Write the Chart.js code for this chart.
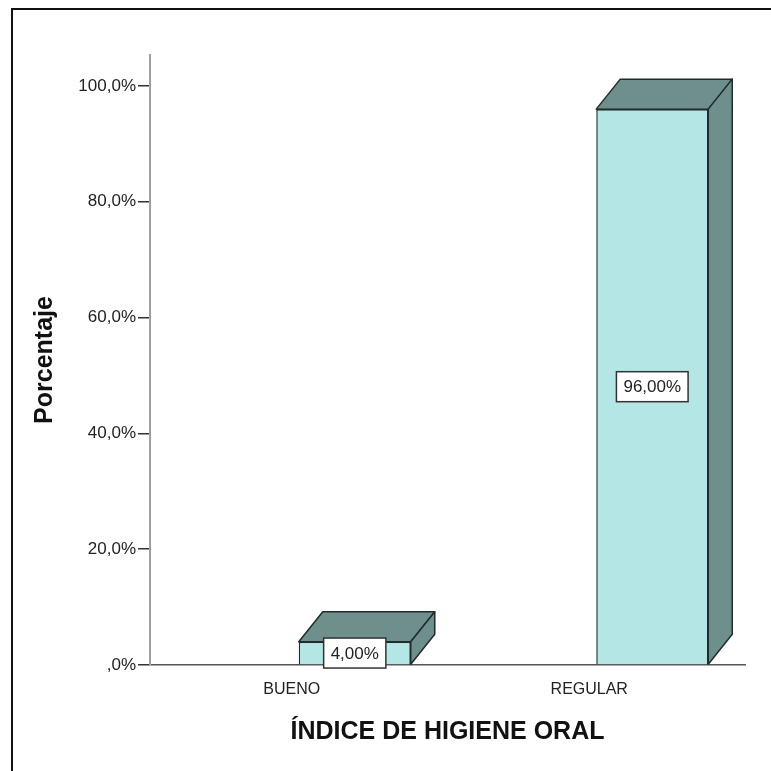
<!DOCTYPE html>
<html>
<head>
<meta charset="utf-8">
<title>Índice de higiene oral</title>
<script src="https://cdn.jsdelivr.net/npm/chart.js@4.4.1/dist/chart.umd.min.js"></script>
<style>
  html, body { margin: 0; padding: 0; background: #fff; overflow: hidden; }
  #wrap { position: relative; width: 771px; height: 771px; }
  #frame { position: absolute; left: 11px; top: 8px; width: 900px; height: 900px;
           border-left: 2px solid #111; border-top: 2px solid #111; pointer-events: none; }
</style>
</head>
<body>
<div id="wrap">
  <canvas id="chart" width="771" height="771"></canvas>
  <div id="frame"></div>
</div>
<script>
// data
const categories = ['BUENO', 'REGULAR'];
const porcentajes = [4.0, 96.0];
const yTicks = [0, 20, 40, 60, 80, 100];
const yTickLabels = [',0%', '20,0%', '40,0%', '60,0%', '80,0%', '100,0%'];
const xTitle = 'ÍNDICE DE HIGIENE ORAL';
const yTitle = 'Porcentaje';

const FRONT = '#b4e6e6';
const SIDE = '#6f8f8c';
const EDGE = '#1f2d2d';
const DEPTH_X = 24, DEPTH_Y = 30;
const FONT = '"Liberation Sans", Arial, sans-serif';

// top and side faces of the 3D bars, built on the bar elements
const bars3d = {
  id: 'bars3d',
  afterDatasetsDraw(chart) {
    const ctx = chart.ctx;
    chart.getDatasetMeta(1).data.forEach(bar => {
      const x0 = bar.x - bar.width / 2, x1 = bar.x + bar.width / 2;
      const yt = bar.y, yb = bar.base;
      ctx.save();
      ctx.fillStyle = SIDE;
      ctx.strokeStyle = EDGE;
      ctx.lineWidth = 1.5;
      ctx.lineJoin = 'round';
      // top
      ctx.beginPath();
      ctx.moveTo(x0, yt);
      ctx.lineTo(x0 + DEPTH_X, yt - DEPTH_Y);
      ctx.lineTo(x1 + DEPTH_X, yt - DEPTH_Y);
      ctx.lineTo(x1, yt);
      ctx.closePath();
      ctx.fill();
      ctx.stroke();
      // side
      ctx.beginPath();
      ctx.moveTo(x1, yt);
      ctx.lineTo(x1 + DEPTH_X, yt - DEPTH_Y);
      ctx.lineTo(x1 + DEPTH_X, yb - DEPTH_Y);
      ctx.lineTo(x1, yb);
      ctx.closePath();
      ctx.fill();
      ctx.stroke();
      ctx.restore();
    });
  }
};

// boxed value labels in the middle of each bar
const boxLabels = {
  id: 'boxLabels',
  afterDraw(chart) {
    const ctx = chart.ctx;
    chart.getDatasetMeta(1).data.forEach((bar, i) => {
      const txt = porcentajes[i].toFixed(2).replace('.', ',') + '%';
      ctx.save();
      ctx.font = '17px ' + FONT;
      const w = ctx.measureText(txt).width + 14, h = 30;
      const cx = bar.x, cy = (bar.y + bar.base) / 2;
      ctx.fillStyle = '#fff';
      ctx.fillRect(cx - w / 2, cy - h / 2, w, h);
      ctx.strokeStyle = '#333';
      ctx.lineWidth = 1.5;
      ctx.strokeRect(cx - w / 2, cy - h / 2, w, h);
      ctx.fillStyle = '#222';
      ctx.textAlign = 'center';
      ctx.textBaseline = 'middle';
      ctx.fillText(txt, cx, cy + 1);
      ctx.restore();
    });
  }
};

new Chart(document.getElementById('chart'), {
  type: 'bar',
  data: {
    labels: categories,
    datasets: [
      { label: '', data: [] }, // empty slot, pushes the bars right of the category tick
      {
        label: 'Porcentaje',
        data: porcentajes,
        backgroundColor: FRONT,
        borderColor: EDGE,
        borderWidth: 1.5,
        categoryPercentage: 0.753,
        barPercentage: 1.0
      }
    ]
  },
  options: {
    responsive: false,
    animation: false,
    layout: { padding: { top: 55, right: 26, left: 0, bottom: 0 } },
    plugins: { legend: { display: false }, tooltip: { enabled: false } },
    scales: {
      x: {
        offset: true,
        afterFit: s => { s.height = 106; },
        grid: { display: false, drawTicks: false },
        border: { display: true, color: '#555', width: 1.5 },
        ticks: {
          padding: 15,
          labelOffset: -7,
          color: '#222',
          font: { family: FONT, size: 16 }
        },
        title: {
          display: true,
          text: xTitle,
          color: '#111',
          padding: { top: 0, bottom: 24 },
          font: { family: FONT, size: 25, weight: 'bold' }
        }
      },
      y: {
        min: 0,
        max: 105.35,
        afterFit: s => { s.width = 150; },
        afterBuildTicks: s => { s.ticks = yTicks.map(v => ({ value: v })); },
        grid: { drawOnChartArea: false, drawTicks: true, tickLength: 12, color: '#333', lineWidth: 1.5 },
        border: { display: true, color: '#a0a0a0', width: 2 },
        ticks: {
          padding: 2,
          color: '#222',
          font: { family: FONT, size: 17 },
          callback: (v, i) => yTickLabels[i]
        },
        title: {
          display: true,
          text: yTitle,
          color: '#111',
          padding: { top: 30, bottom: 0 },
          font: { family: FONT, size: 25, weight: 'bold' }
        }
      }
    }
  },
  plugins: [bars3d, boxLabels]
});
</script>
</body>
</html>
